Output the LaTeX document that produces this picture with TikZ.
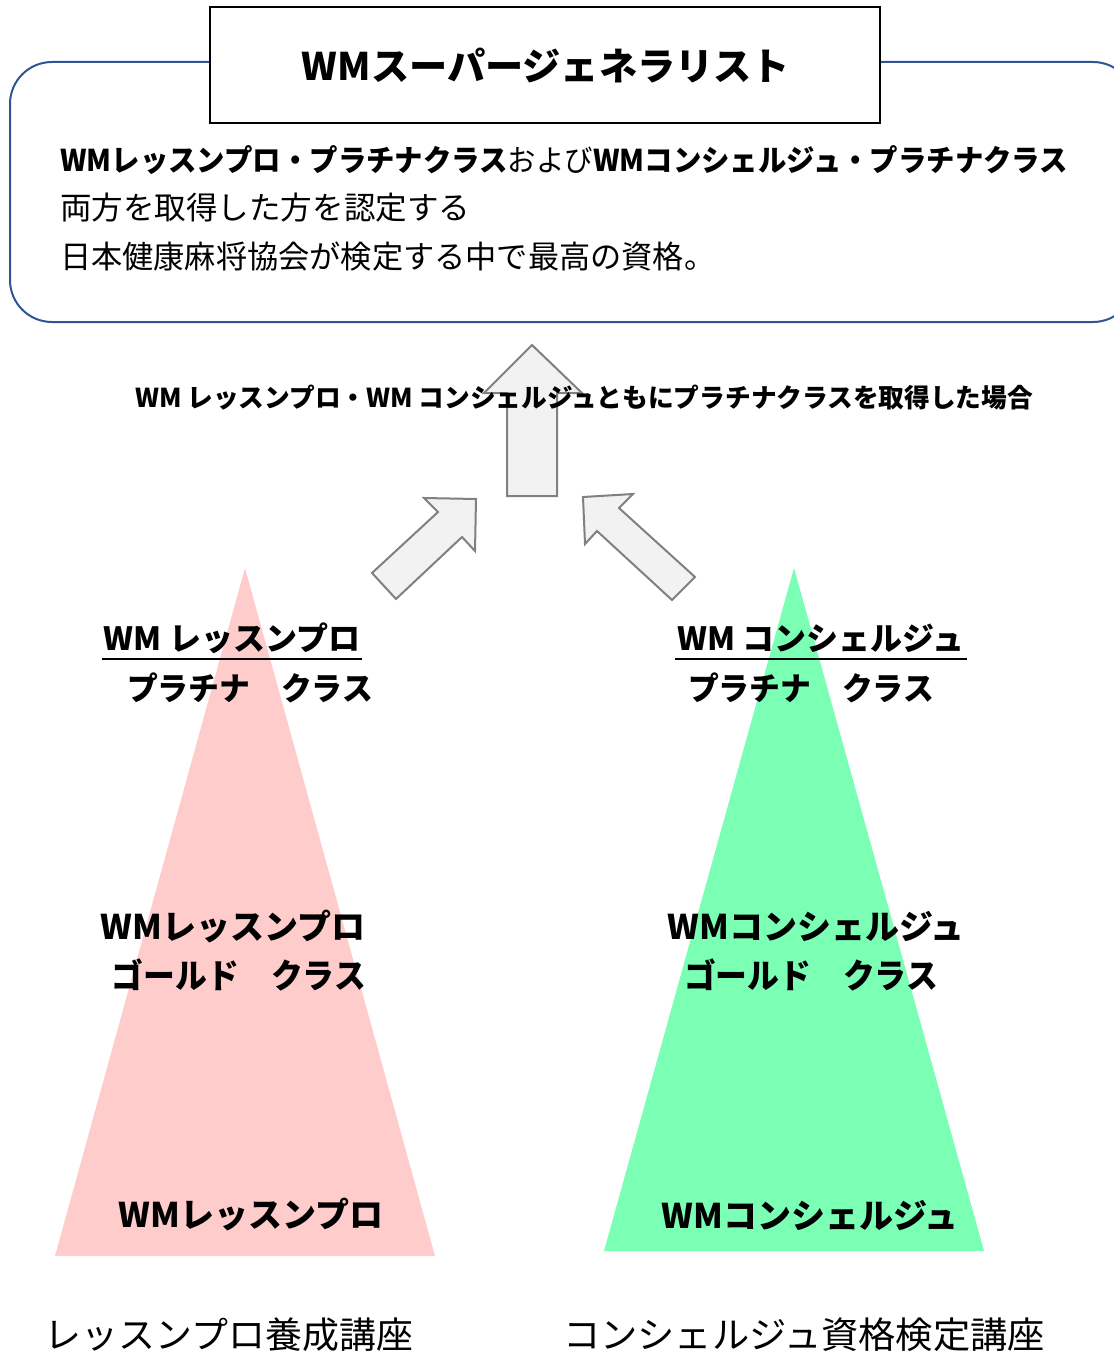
\documentclass[tikz,border=0pt]{standalone}
\usepackage{fontspec}
\usepackage{graphicx}
\setmainfont{Noto Sans CJK JP}
\usetikzlibrary{calc}
\definecolor{boxblue}{RGB}{47,85,151}
\definecolor{arrowfill}{RGB}{242,242,242}
\definecolor{arrowline}{RGB}{128,128,128}
\definecolor{pinktri}{RGB}{255,204,204}
\definecolor{greentri}{RGB}{122,255,181}
\tikzset{
  blockarrow/.style={fill=arrowfill, draw=arrowline, line width=2pt, line join=miter},
  titletxt/.style={font=\fontsize{38}{44}\selectfont\bfseries, inner sep=0pt},
  desctxt/.style={font=\fontsize{31.5}{36}\selectfont, inner sep=0pt, anchor=west},
  captxt/.style={font=\fontsize{26}{30}\selectfont\bfseries, inner sep=0pt},
  lvltxt/.style={font=\fontsize{32}{38}\selectfont\bfseries, inner sep=0pt},
  basetxt/.style={font=\fontsize{34}{40}\selectfont\bfseries, inner sep=0pt},
  coursetxt/.style={font=\fontsize{36.5}{42}\selectfont, inner sep=0pt},
}
\begin{document}
\begin{tikzpicture}[x=1pt,y=-1pt]
\useasboundingbox (0,0) rectangle (1113,1351);
% outer rounded box
\draw[boxblue, line width=2pt, rounded corners=42pt, fill=white] (10,62) rectangle (1135,322);
% title box
\node[titletxt, draw=black, line width=1.5pt, fill=white, minimum width=670pt, minimum height=116pt] (title) at (545,65) {};
\node[titletxt] (titletext) at (546,66) {\resizebox{488pt}{\height}{WMスーパージェネラリスト}};
% description
\node[desctxt, font=\fontsize{30}{36}\selectfont] (d1) at (60,160) {\resizebox{1008pt}{\height}{\textbf{WMレッスンプロ・プラチナクラス}および\textbf{WMコンシェルジュ・プラチナクラス}}};
\node[desctxt] (d2) at (60,208) {\resizebox{410pt}{\height}{両方を取得した方を認定する}};
\node[desctxt] (d3) at (60,257) {\resizebox{655pt}{\height}{日本健康麻将協会が検定する中で最高の資格。}};
% triangles
\fill[pinktri] (245,568) -- (435,1256) -- (55,1256) -- cycle;
\fill[greentri] (794,568) -- (984,1251) -- (604,1251) -- cycle;
% arrows
\draw[blockarrow] (532,345) -- (582,393) -- (557,393) -- (557,496) -- (507,496) -- (507,393) -- (484,393) -- cycle;
\draw[blockarrow] (372,573) -- (438,512) -- (424,498) -- (476,499) -- (475,551) -- (462,537) -- (396,599) -- cycle;
\draw[blockarrow] (583,497) -- (633,494) -- (619,508) -- (695,577) -- (672,600) -- (597,531) -- (585,544) -- cycle;
% caption
\node[captxt] (cap) at (584,398) {\resizebox{898pt}{\height}{WM レッスンプロ・WM コンシェルジュともにプラチナクラスを取得した場合}};
% left triangle labels
\node[lvltxt] (lp1) at (232,638) {WM レッスンプロ};
\draw[line width=2pt] ($(lp1.west)+(-2,21)$) -- ($(lp1.east)+(2,21)$);
\node[lvltxt] (lp2) at (250,688) {\resizebox{246pt}{\height}{プラチナ　クラス}};
\node[basetxt] (lg1) at (233,927) {WMレッスンプロ};
\node[basetxt] (lg2) at (239,975) {\resizebox{254pt}{\height}{ゴールド　クラス}};
\node[basetxt] (lb) at (251,1215) {WMレッスンプロ};
% right triangle labels
\node[lvltxt] (rp1) at (821,638) {WM コンシェルジュ};
\draw[line width=2pt] ($(rp1.west)+(-2,21)$) -- ($(rp1.east)+(2,21)$);
\node[lvltxt] (rp2) at (811,688) {\resizebox{246pt}{\height}{プラチナ　クラス}};
\node[basetxt] (rg1) at (816,927) {WMコンシェルジュ};
\node[basetxt] (rg2) at (811,975) {\resizebox{254pt}{\height}{ゴールド　クラス}};
\node[basetxt] (rb) at (810,1215) {WMコンシェルジュ};
% course labels
\node[coursetxt] (c1) at (229,1335) {\resizebox{368pt}{\height}{レッスンプロ養成講座}};
\node[coursetxt] (c2) at (804,1335) {\resizebox{482pt}{\height}{コンシェルジュ資格検定講座}};
\end{tikzpicture}
\end{document}
